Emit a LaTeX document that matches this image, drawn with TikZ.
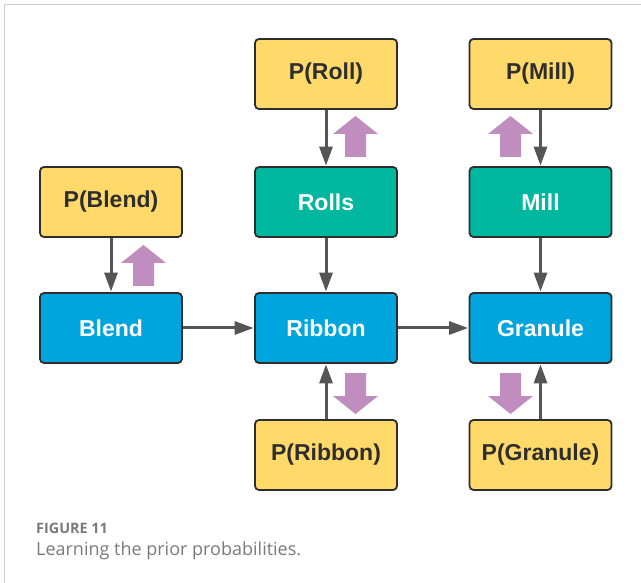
\documentclass[tikz,border=0pt]{standalone}
\usepackage{fontspec}
\setmainfont{Liberation Sans}
\newfontfamily\capfont{Open Sans}
\usetikzlibrary{arrows.meta}
\definecolor{yel}{HTML}{FFDA6A}
\definecolor{teal}{HTML}{00B89F}
\definecolor{blu}{HTML}{00A5DE}
\definecolor{edge}{HTML}{2E2E2E}
\definecolor{arr}{HTML}{555555}
\definecolor{lila}{HTML}{BF8EBE}
\definecolor{frame}{HTML}{CCCCCC}
\definecolor{capgray}{HTML}{7A7A7A}
\tikzset{
  box/.style={draw=edge, line width=1.8pt, rounded corners=4pt, minimum width=142pt, minimum height=70pt, inner sep=0pt, font=\fontsize{23}{26}\selectfont\bfseries},
  prior/.style={box, fill=yel, text=edge},
  proc/.style={box, fill=teal, text=white},
  mat/.style={box, fill=blu, text=white},
  conn/.style={draw=arr, line width=3pt, -{Triangle[length=19pt,width=13pt]}, shorten >=0.5pt},
}
\begin{document}
\begin{tikzpicture}[x=1pt,y=-1pt]
\useasboundingbox (0,0) rectangle (641,583);
\draw[frame, line width=1.5pt] (641,4.5) -- (4.5,4.5) -- (4.5,583);
% nodes
\node[prior] (pblend) at (111,202) {P(Blend)};
\node[prior] (proll) at (326,74) {P(Roll)};
\node[prior] (pmill) at (540.5,74) {P(Mill)};
\node[proc] (rolls) at (326,202) {Rolls};
\node[proc] (mill) at (540.5,202) {Mill};
\node[mat] (blend) at (111,328) {Blend};
\node[mat] (ribbon) at (326,328) {Ribbon};
\node[mat] (granule) at (540.5,328) {Granule};
\node[prior] (pribbon) at (326,455) {P(Ribbon)};
\node[prior] (pgranule) at (540.5,455) {P(Granule)};
% connectors
\draw[conn] (pblend) -- (blend);
\draw[conn] (proll) -- (rolls);
\draw[conn] (rolls) -- (ribbon);
\draw[conn] (pmill) -- (mill);
\draw[conn] (mill) -- (granule);
\draw[conn] (blend) -- (ribbon);
\draw[conn] (ribbon) -- (granule);
\draw[conn] (pribbon) -- (ribbon);
\draw[conn] (pgranule) -- (granule);
% purple block arrows (up)
\fill[lila] (133,286) -- (133,263) -- (121,263) -- (143.5,245) -- (166,263) -- (154,263) -- (154,286) -- cycle;
\fill[lila] (345,157) -- (345,134) -- (333,134) -- (355.5,116) -- (378,134) -- (366,134) -- (366,157) -- cycle;
\fill[lila] (500,157) -- (500,134) -- (488,134) -- (510.5,116) -- (533,134) -- (521,134) -- (521,157) -- cycle;
% purple block arrows (down)
\fill[lila] (345,373) -- (345,396) -- (333,396) -- (355.5,414) -- (378,396) -- (366,396) -- (366,373) -- cycle;
\fill[lila] (500,373) -- (500,396) -- (488,396) -- (510.5,414) -- (533,396) -- (521,396) -- (521,373) -- cycle;
% caption
\node[anchor=base west, inner sep=0pt, text=capgray, font=\capfont\fontsize{14.4}{16}\selectfont\bfseries] (figlab) at (36,533) {FIGURE 11};
\node[anchor=base west, inner sep=0pt, text=capgray, font=\capfont\fontsize{18}{21}\selectfont] (cap) at (36,555) {Learning the prior probabilities.};
\end{tikzpicture}
\end{document}
